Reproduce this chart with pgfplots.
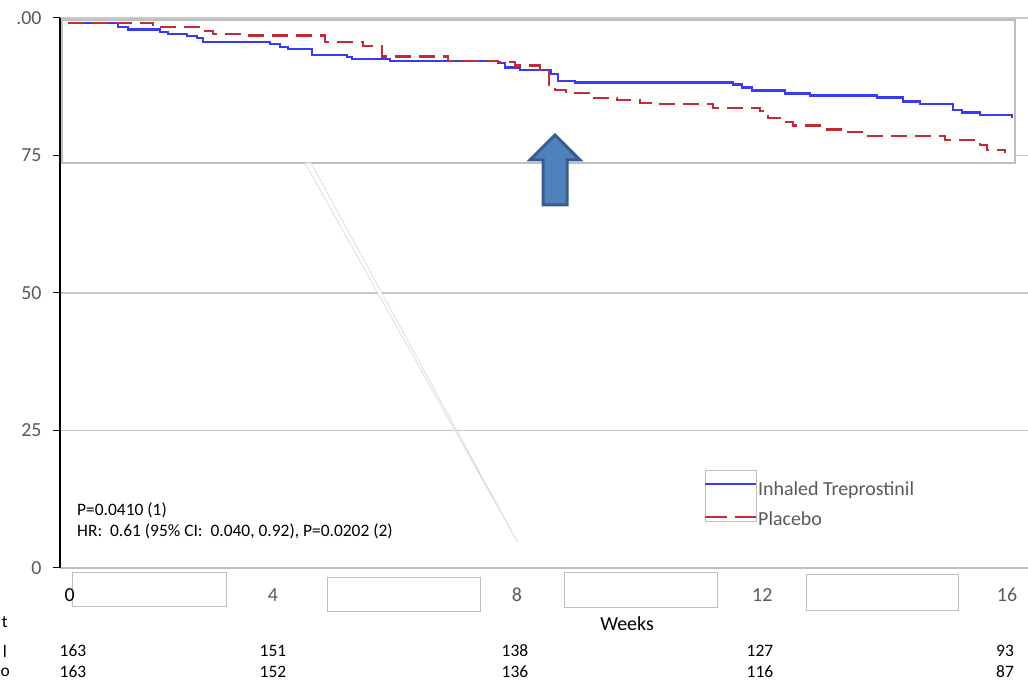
\documentclass[border=0pt]{standalone}
\usepackage{fontspec}
\setmainfont{Carlito}
\usepackage{pgfplots}
\pgfplotsset{compat=1.18}
\definecolor{blueline}{RGB}{58,58,240}
\definecolor{redline}{RGB}{192,45,55}
\definecolor{txtgray}{RGB}{89,89,89}
\definecolor{gridgray}{RGB}{200,200,200}
\definecolor{boxgray}{RGB}{190,190,190}
\definecolor{arrowfill}{RGB}{79,129,189}
\definecolor{arrowdraw}{RGB}{56,93,138}
\begin{document}
\begin{tikzpicture}
\useasboundingbox (0bp,0bp) rectangle (1028bp,683bp);
\begin{scope}[x=1bp,y=1bp]
% empty boxes under the axis
\filldraw[fill=white, draw=boxgray, line width=0.8bp] (72,111) rectangle (226,77);
\filldraw[fill=white, draw=boxgray, line width=0.8bp] (327,106) rectangle (480,72);
\filldraw[fill=white, draw=boxgray, line width=0.8bp] (564,111) rectangle (717,76);
\filldraw[fill=white, draw=boxgray, line width=0.8bp] (806,109) rectangle (958,73);
\end{scope}
\begin{axis}[
  at={(60bp,115bp)}, anchor=south west,
  scale only axis, width=968bp, height=550bp,
  xmin=-0.1363, xmax=16.357, ymin=0, ymax=100,
  axis x line*=bottom, axis y line*=left,
  x axis line style={-, draw=boxgray, line width=1.2bp},
  y axis line style={-, draw=black, line width=1.8bp},
  xtick={0.03,3.49,7.65,11.83,16}, xticklabels={\textcolor{black}{0},4,8,12,16},
  x tick style={draw=none},
  ytick={0,25,50,75,100}, yticklabels={0,25,50,75,.00},
  tick align=outside, major tick length=7bp,
  y tick style={black, line width=1bp},
  ymajorgrids, major grid style={gridgray, line width=1.2bp},
  tick label style={font=\fontsize{20}{24}\selectfont, text=txtgray},
  x tick label style={anchor=base, yshift=-27bp},
  y tick label style={anchor=east, xshift=-8bp},
  clip=false,
]
\filldraw[fill=white, draw=boxgray, line width=1.2bp] (rel axis cs:0.00207,0.99636) rectangle (rel axis cs:0.98657,0.73636);
\addplot[const plot, blueline, line width=2.7bp] coordinates {
(0,99.09) (0.852,98.36) (1.022,97.91) (1.568,97.45) (1.704,97.09) (2.028,96.73)
(2.198,96.36) (2.300,95.64) (3.442,95.27) (3.612,94.73) (3.749,94.36) (4.157,93.27)
(4.754,92.91) (4.839,92.55) (5.486,92.18) (7.327,91.82) (7.446,91.00) (7.701,90.55)
(8.230,89.82) (8.349,88.55) (8.639,88.30) (11.331,87.95) (11.484,87.40) (11.655,86.78)
(12.217,86.31) (12.643,85.87) (13.784,85.51) (14.227,84.78) (14.517,84.36) (15.079,83.27)
(15.233,82.78) (15.539,82.36) (16.085,81.76)
};
\addplot[const plot, redline, line width=2.7bp, dash pattern=on 16bp off 8bp] coordinates {
(0,99.09) (1.448,98.36) (2.249,97.64) (2.471,97.09) (3.016,96.82) (4.379,95.64)
(5.026,94.91) (5.350,93.00) (6.475,92.18) (7.327,92.00) (7.616,91.36) (8.042,90.55)
(8.196,87.36) (8.298,86.91) (8.485,86.36) (8.894,85.45) (9.354,85.09) (9.746,84.55)
(10.087,84.36) (10.990,83.64) (11.791,83.09) (11.927,81.82) (12.183,81.09) (12.353,80.45)
(12.932,79.73) (13.205,79.27) (13.631,78.55) (14.943,77.82) (15.539,76.91) (15.659,76.00)
(15.965,75.45)
};
\end{axis}
\begin{scope}[x=1bp,y=1bp]
% zoom connector
\filldraw[fill=white, draw=gray!30, line width=0.7bp] (305,520) -- (311,520) -- (518,140) -- cycle;
% arrow
\filldraw[fill=arrowfill, draw=arrowdraw, line width=3bp, line join=miter]
  (543,478) -- (567,478) -- (567,523) -- (580,523) -- (555,548) -- (530,523) -- (543,523) -- cycle;
% legend
\draw[boxgray, line width=0.8bp] (705,213) rectangle (756,162);
\draw[blueline, line width=2.5bp] (705,199) -- (756,199);
\draw[redline, line width=2.8bp, dash pattern=on 22bp off 8bp] (705,166) -- (756,166);
\node[anchor=west, inner sep=0, text=txtgray, font=\fontsize{20}{24}\selectfont] at (758,193) {Inhaled Treprostinil};
\node[anchor=west, inner sep=0, text=txtgray, font=\fontsize{20}{24}\selectfont] at (758,164) {Placebo};
% annotations
\node[anchor=west, inner sep=0, font=\fontsize{17.5}{21}\selectfont] at (77,173) {P=0.0410 (1)};
\node[anchor=west, inner sep=0, font=\fontsize{17.5}{21}\selectfont] at (77,152) {HR:\ \ 0.61 (95\% CI:\ \ 0.040, 0.92), P=0.0202 (2)};
% x label
\node[font=\fontsize{20}{24}\selectfont] at (627,59) {Weeks};
% number at risk
\node[font=\fontsize{17.5}{21}\selectfont, anchor=east, inner sep=0] at (8,61) {t};
\node[font=\fontsize{17.5}{21}\selectfont, anchor=east, inner sep=0] at (7,32) {l};
\node[font=\fontsize{17.5}{21}\selectfont, anchor=east, inner sep=0] at (10,11) {o};
\foreach \x/\n in {73/163,273/151,515/138,760/127,1005/93}
  \node[font=\fontsize{17.5}{21}\selectfont] at (\x,32) {\n};
\foreach \x/\n in {73/163,273/152,515/136,760/116,1005/87}
  \node[font=\fontsize{17.5}{21}\selectfont] at (\x,11) {\n};
\end{scope}
\end{tikzpicture}
\end{document}
